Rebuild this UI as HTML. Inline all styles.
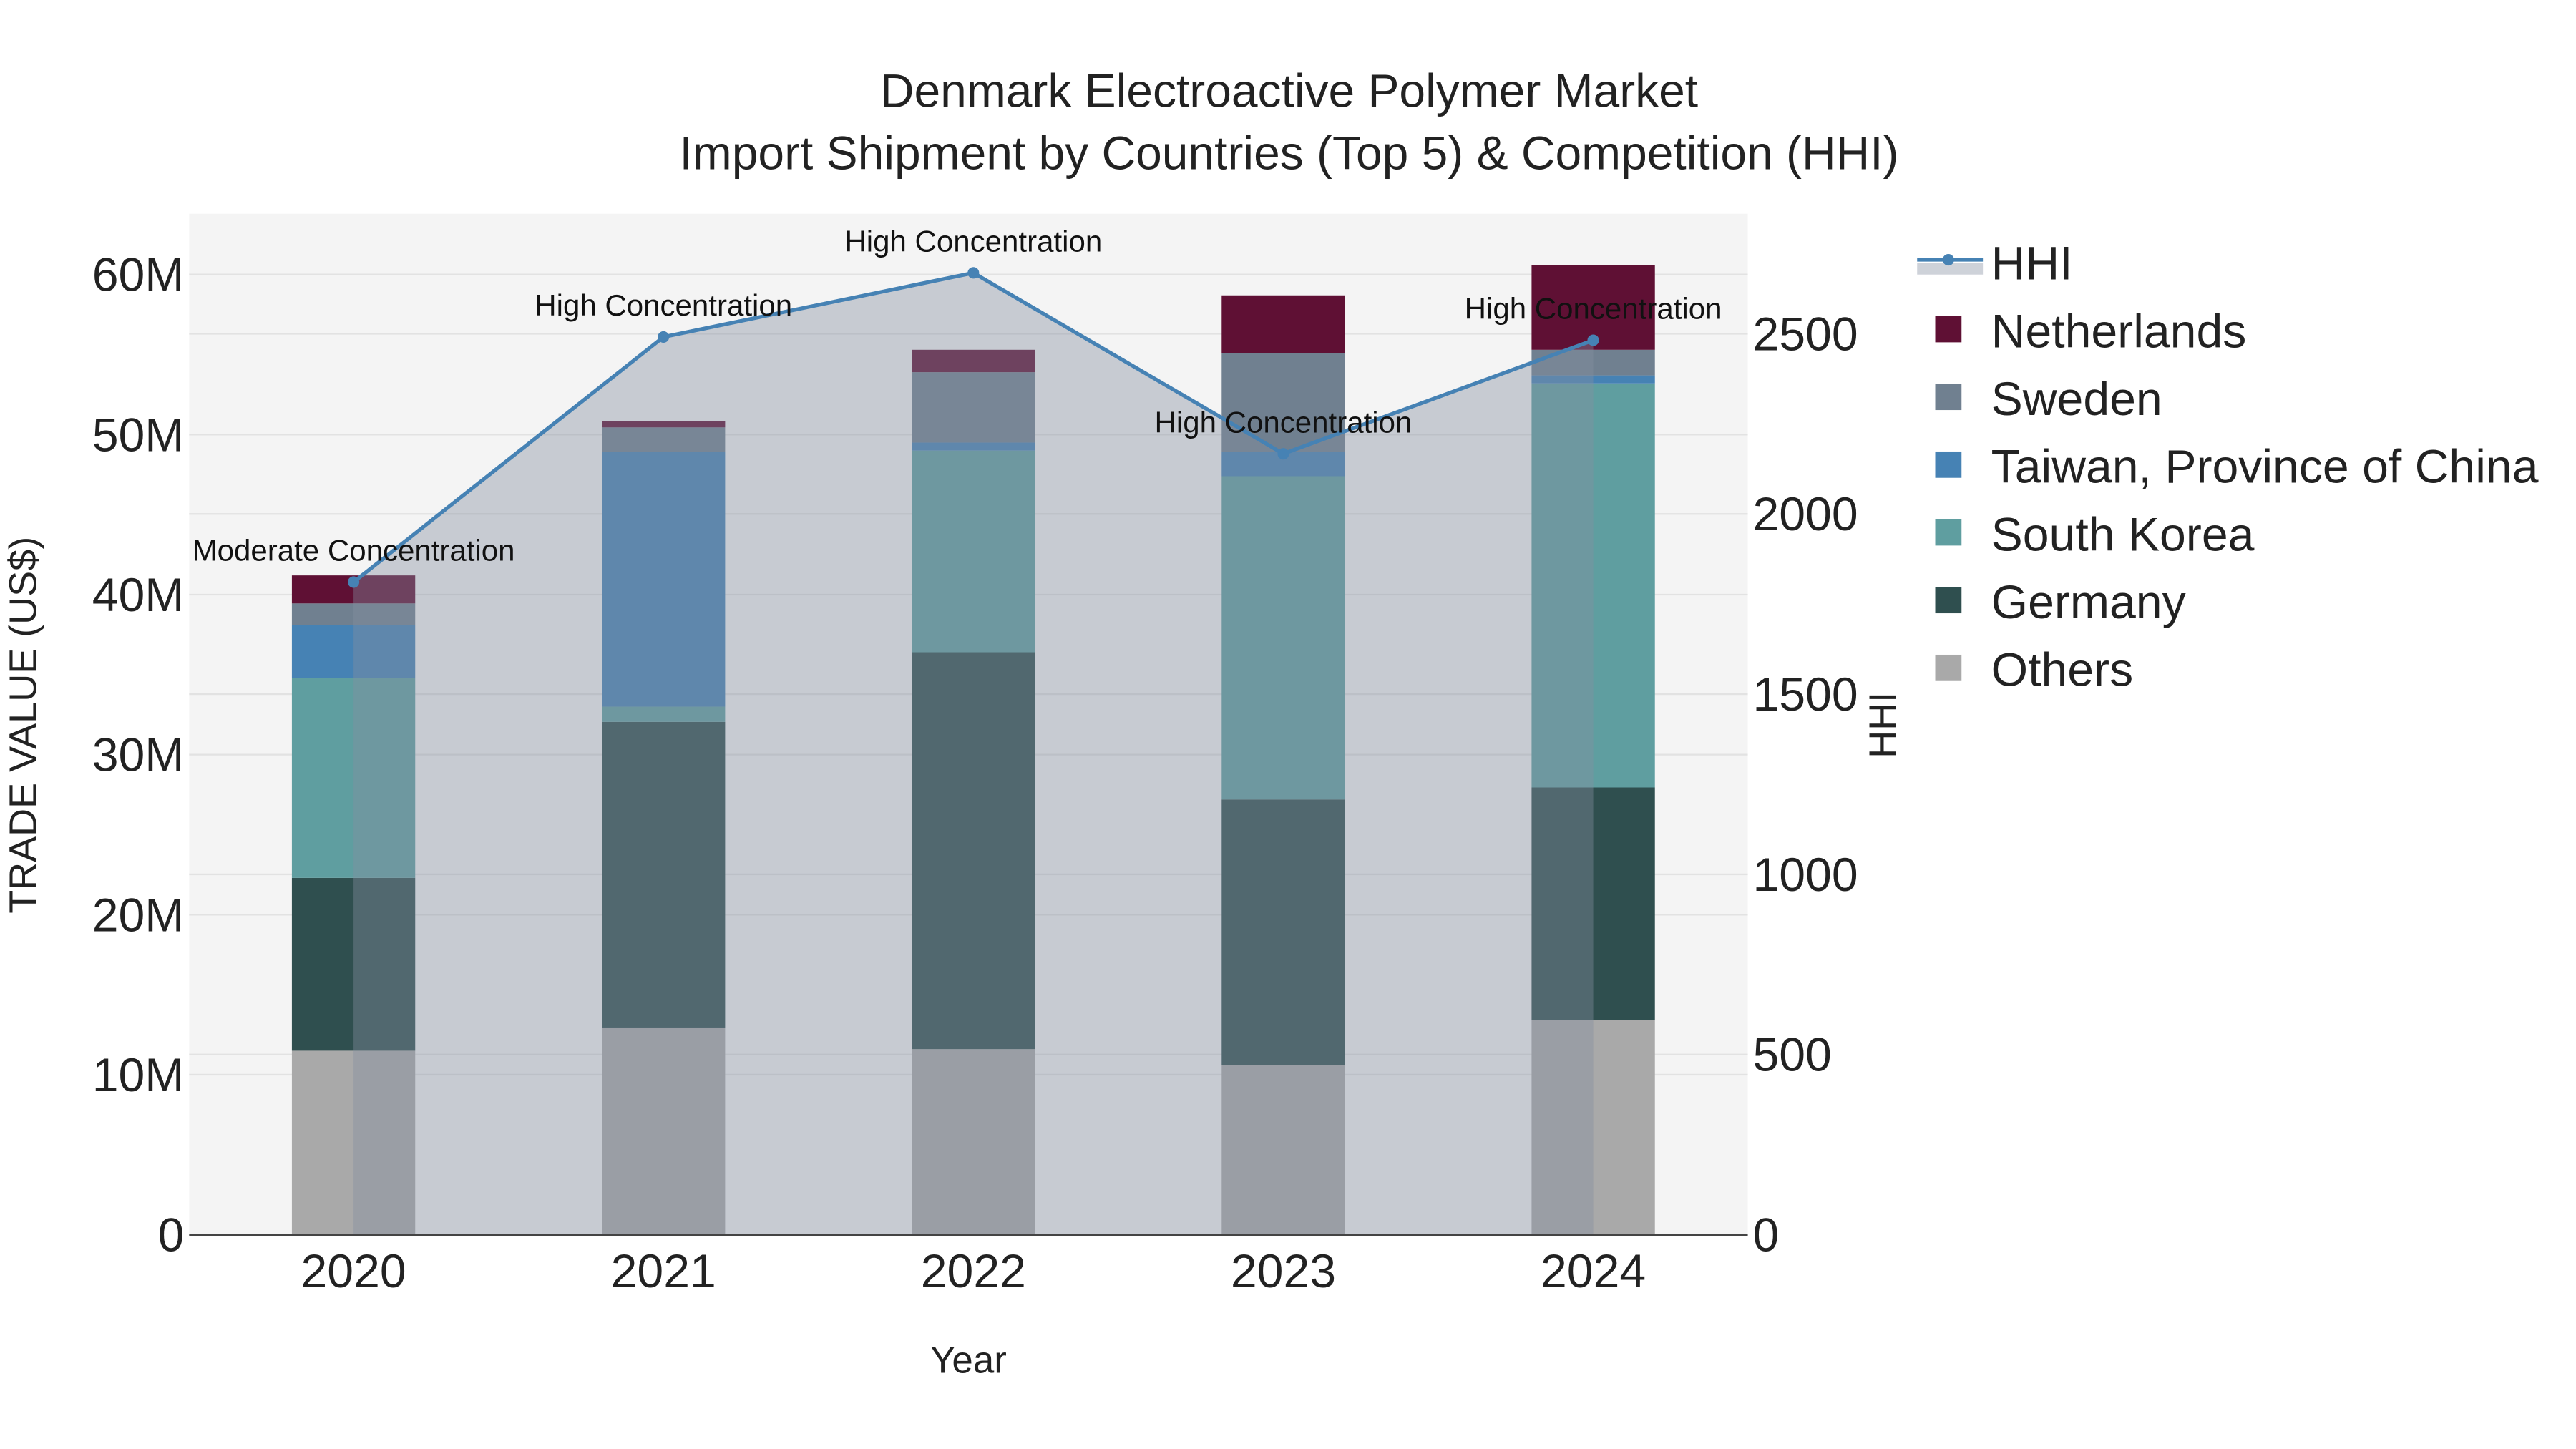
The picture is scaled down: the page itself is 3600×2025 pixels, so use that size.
<!DOCTYPE html>
<html><head><meta charset="utf-8"><style>
html,body{margin:0;padding:0;background:#fff}
svg{display:block;font-family:"Liberation Sans",sans-serif}
</style></head><body>
<svg id="chart" width="3600" height="2025" viewBox="0 0 1566.7 881.3" xmlns="http://www.w3.org/2000/svg">
<text x="784" y="65" font-size="28.7" text-anchor="middle" fill="#222">Denmark Electroactive Polymer Market</text>
<text x="784" y="103" font-size="28.7" text-anchor="middle" fill="#222">Import Shipment by Countries (Top 5) &amp; Competition (HHI)</text>
<rect x="115" y="130" width="948" height="621" fill="#f4f4f4"/>
<g id="grid"></g>
<g id="bars"></g>
<g id="hhi"></g>
<g id="axes"></g>
<g id="legend"></g>
<text transform="translate(22,441) rotate(-90)" font-size="23.5" text-anchor="middle" fill="#222">TRADE VALUE (US$)</text>
<text transform="translate(1153,441) rotate(-90)" font-size="23.5" text-anchor="middle" fill="#222">HHI</text>
<text x="589" y="835" font-size="23" text-anchor="middle" fill="#222">Year</text>
</svg>
<script>
const years = ["2020","2021","2022","2023","2024"];
const countries = ["Others","Germany","South Korea","Taiwan, Province of China","Sweden","Netherlands"];
const others = [11.5,12.95,11.6,10.6,13.4];
const germany = [10.8,19.1,24.8,16.6,14.55];
const southKorea = [12.5,0.95,12.6,20.2,25.25];
const taiwan = [3.3,15.9,0.5,1.5,0.5];
const sweden = [1.35,1.55,4.4,6.2,1.6];
const netherlands = [1.75,0.4,1.4,3.6,5.3];
const hhi = [1811,2491,2669,2167,2482];
const hhiLabels = ["Moderate Concentration","High Concentration","High Concentration","High Concentration","High Concentration"];
const yTicks = [0,10,20,30,40,50,60];
const y2Ticks = [0,500,1000,1500,2000,2500];

const colors = ["#a9a9a9","#2f4f4f","#5f9ea0","#4682b4","#708090","#5f1034"];
const series = [others,germany,southKorea,taiwan,sweden,netherlands];
const NS="http://www.w3.org/2000/svg";
const L=115,R=1063,T=130,B=751;
const band=188.5;
const xs=i=>215+band*i;
const ys=v=>B-(v/63.8)*(B-T);
const y2s=v=>B-(v/2833)*(B-T);
function mk(tag,attrs,parent){const e=document.createElementNS(NS,tag);for(const k in attrs)e.setAttribute(k,attrs[k]);parent.appendChild(e);return e;}
const grid=document.getElementById('grid'),bars=document.getElementById('bars'),hg=document.getElementById('hhi'),axes=document.getElementById('axes'),leg=document.getElementById('legend');
yTicks.forEach(t=>{
 if(t>0){const g=mk('line',{x1:L,x2:R,y1:ys(t),y2:ys(t),stroke:'#e2e2e2','stroke-width':1},grid);
 
 }
 const tx=mk('text',{x:L-3,y:ys(t)+10,'font-size':28.8,'text-anchor':'end',fill:'#222'},axes);tx.textContent=t===0?'0':t+'M';
 
 
});
y2Ticks.forEach(t=>{
 if(t>0){const g=mk('line',{x1:L,x2:R,y1:y2s(t),y2:y2s(t),stroke:'#e2e2e2','stroke-width':1},grid);
 
 }
 const tx=mk('text',{x:R+3,y:y2s(t)+10,'font-size':28.8,'text-anchor':'start',fill:'#222'},axes);tx.textContent=String(t);
 
 
});
const bw=75;
years.forEach((yr,i)=>{
 let acc=0;
 series.forEach((s,k)=>{
  const r=mk('rect',{x:xs(i)-bw/2,y:ys(acc+s[i]),width:bw,height:ys(acc)-ys(acc+s[i]),fill:colors[k]},bars);
  
  
  acc+=s[i];
 });
 const tx=mk('text',{x:xs(i),y:B+32,'font-size':28.8,'text-anchor':'middle',fill:'#222'},axes);tx.textContent=yr;
 
 
});
let pts=hhi.map((v,i)=>xs(i)+','+y2s(v));
const area=mk('polygon',{points:xs(0)+','+B+' '+pts.join(' ')+' '+xs(hhi.length-1)+','+B,fill:'rgba(132,142,160,0.4)'},hg);


const line=mk('polyline',{points:pts.join(' '),fill:'none',stroke:'#4682b4','stroke-width':2.3},hg);


hhi.forEach((v,i)=>{
 const c=mk('circle',{cx:xs(i),cy:y2s(v),r:3.5,fill:'#4682b4'},hg);
 
 
 const a=mk('text',{x:xs(i),y:y2s(v)-13,'font-size':18.3,'text-anchor':'middle',fill:'#111'},hg);a.textContent=hhiLabels[i];
 
 
});
const zl=mk('line',{x1:L,x2:R,y1:B,y2:B,stroke:'#444','stroke-width':1.3},axes);


const ly0=160,lsp=41.2;
const lh=mk('g',{},leg);


mk('rect',{x:1166,y:ly0,width:40,height:7,fill:'rgba(132,142,160,0.4)'},lh);
mk('line',{x1:1166,x2:1206,y1:ly0-2,y2:ly0-2,stroke:'#4682b4','stroke-width':2.3},lh);
mk('circle',{cx:1185,cy:ly0-2,r:3.5,fill:'#4682b4'},lh);
const t0=mk('text',{x:1211,y:ly0+10,'font-size':28.8,fill:'#222'},lh);t0.textContent='HHI';
const order=[5,4,3,2,1,0];
order.forEach((k,j)=>{
 const y=ly0+lsp*(j+1);
 const g=mk('g',{},leg);
 
 
 mk('rect',{x:1177,y:y-9,width:16,height:16,fill:colors[k]},g);
 const t=mk('text',{x:1211,y:y+10,'font-size':28.8,fill:'#222'},g);t.textContent=countries[k];
});
</script>
</body></html>
